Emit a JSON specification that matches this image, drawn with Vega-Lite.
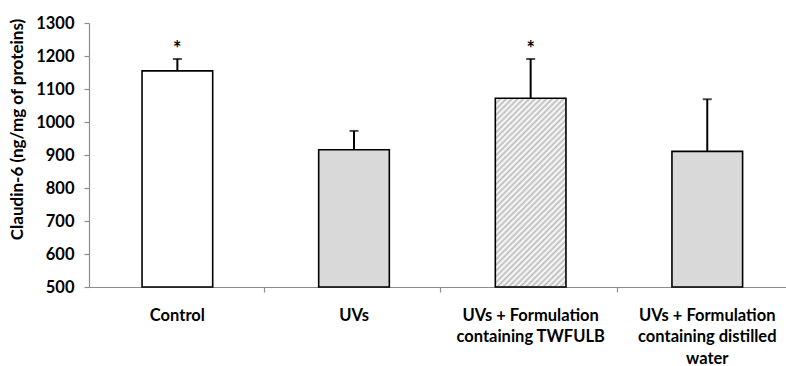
{
  "$schema": "https://vega.github.io/schema/vega-lite/v6.json",
  "width": 697,
  "height": 264,
  "autosize": {"type": "none"},
  "padding": {"left": 89, "top": 23, "right": 0, "bottom": 79},
  "background": "white",
  "config": {
    "view": {"stroke": null},
    "font": "Lato"
  },
  "data": {
    "values": [
      {"group": "Control", "value": 1155, "upper": 1191, "sig": "*"},
      {"group": "UVs", "value": 916, "upper": 973, "sig": ""},
      {"group": "UVs + Formulation|containing TWFULB", "value": 1072, "upper": 1191, "sig": "*"},
      {"group": "UVs + Formulation|containing distilled|water", "value": 911, "upper": 1069, "sig": ""}
    ]
  },
  "encoding": {
    "x": {
      "field": "group",
      "type": "nominal",
      "sort": null,
      "scale": {"paddingInner": 0.6, "paddingOuter": 0.273, "align": 0.55},
      "axis": {
        "title": null,
        "labelAngle": 0,
        "labelExpr": "split(datum.label, '|')",
        "labelFont": "Lato",
        "labelFontWeight": "bold",
        "labelFontSize": 16.5,
        "labelLineHeight": 21.5,
        "labelColor": "#000000",
        "labelPadding": 15,
        "labelLimit": 300,
        "labelOverlap": false,
        "domainColor": "#8c8c8c",
        "domainWidth": 1.2,
        "tickColor": "#8c8c8c",
        "tickWidth": 1.2,
        "tickSize": 5,
        "bandPosition": 1.73,
        "tickExtra": false
      }
    }
  },
  "layer": [
    {
      "mark": {"type": "rule", "stroke": "#000000", "strokeWidth": 2},
      "encoding": {
        "y": {
          "field": "value",
          "type": "quantitative",
          "scale": {"domain": [500, 1300], "nice": false, "zero": false},
          "axis": {
            "title": "Claudin-6 (ng/mg of proteins)",
            "values": [500, 600, 700, 800, 900, 1000, 1100, 1200, 1300],
            "tickCount": 9,
            "format": "d",
            "labelOverlap": false,
            "grid": false,
            "labelFont": "Lato",
            "labelFontWeight": "bold",
            "labelFontSize": 16.5,
            "labelColor": "#000000",
            "labelPadding": 10,
            "domainColor": "#8c8c8c",
            "domainWidth": 1.2,
            "tickColor": "#8c8c8c",
            "tickWidth": 1.2,
            "tickSize": 5,
            "titleFont": "Lato",
            "titleFontWeight": "bold",
            "titleFontSize": 17,
            "titleColor": "#000000",
            "titleX": -72,
            "titleY": 106,
            "titleAngle": -90,
            "titleAlign": "center",
            "titleBaseline": "middle"
          }
        },
        "y2": {"field": "upper"}
      }
    },
    {
      "mark": {"type": "tick", "color": "#000000", "size": 9, "thickness": 2},
      "encoding": {
        "y": {"field": "upper", "type": "quantitative"}
      }
    },
    {
      "mark": {"type": "bar", "stroke": "#000000", "strokeWidth": 1.6},
      "encoding": {
        "y": {"field": "value", "type": "quantitative"},
        "y2": {"datum": 500},
        "fill": {
          "condition": [
            {"test": "datum.group === 'Control'", "value": "#ffffff"},
            {
              "test": "indexof(datum.group, 'TWFULB') >= 0",
              "value": {
                "gradient": "linear",
                "x1": 0, "y1": 0, "x2": 0.453, "y2": 1.206,
                "stops": [
                  {"offset": 0, "color": "#bdbdbd"}, {"offset": 0.0111, "color": "#ffffff"},
                  {"offset": 0.0222, "color": "#bdbdbd"}, {"offset": 0.0333, "color": "#ffffff"},
                  {"offset": 0.0444, "color": "#bdbdbd"}, {"offset": 0.0556, "color": "#ffffff"},
                  {"offset": 0.0667, "color": "#bdbdbd"}, {"offset": 0.0778, "color": "#ffffff"},
                  {"offset": 0.0889, "color": "#bdbdbd"}, {"offset": 0.1, "color": "#ffffff"},
                  {"offset": 0.1111, "color": "#bdbdbd"}, {"offset": 0.1222, "color": "#ffffff"},
                  {"offset": 0.1333, "color": "#bdbdbd"}, {"offset": 0.1444, "color": "#ffffff"},
                  {"offset": 0.1556, "color": "#bdbdbd"}, {"offset": 0.1667, "color": "#ffffff"},
                  {"offset": 0.1778, "color": "#bdbdbd"}, {"offset": 0.1889, "color": "#ffffff"},
                  {"offset": 0.2, "color": "#bdbdbd"}, {"offset": 0.2111, "color": "#ffffff"},
                  {"offset": 0.2222, "color": "#bdbdbd"}, {"offset": 0.2333, "color": "#ffffff"},
                  {"offset": 0.2444, "color": "#bdbdbd"}, {"offset": 0.2556, "color": "#ffffff"},
                  {"offset": 0.2667, "color": "#bdbdbd"}, {"offset": 0.2778, "color": "#ffffff"},
                  {"offset": 0.2889, "color": "#bdbdbd"}, {"offset": 0.3, "color": "#ffffff"},
                  {"offset": 0.3111, "color": "#bdbdbd"}, {"offset": 0.3222, "color": "#ffffff"},
                  {"offset": 0.3333, "color": "#bdbdbd"}, {"offset": 0.3444, "color": "#ffffff"},
                  {"offset": 0.3556, "color": "#bdbdbd"}, {"offset": 0.3667, "color": "#ffffff"},
                  {"offset": 0.3778, "color": "#bdbdbd"}, {"offset": 0.3889, "color": "#ffffff"},
                  {"offset": 0.4, "color": "#bdbdbd"}, {"offset": 0.4111, "color": "#ffffff"},
                  {"offset": 0.4222, "color": "#bdbdbd"}, {"offset": 0.4333, "color": "#ffffff"},
                  {"offset": 0.4444, "color": "#bdbdbd"}, {"offset": 0.4556, "color": "#ffffff"},
                  {"offset": 0.4667, "color": "#bdbdbd"}, {"offset": 0.4778, "color": "#ffffff"},
                  {"offset": 0.4889, "color": "#bdbdbd"}, {"offset": 0.5, "color": "#ffffff"},
                  {"offset": 0.5111, "color": "#bdbdbd"}, {"offset": 0.5222, "color": "#ffffff"},
                  {"offset": 0.5333, "color": "#bdbdbd"}, {"offset": 0.5444, "color": "#ffffff"},
                  {"offset": 0.5556, "color": "#bdbdbd"}, {"offset": 0.5667, "color": "#ffffff"},
                  {"offset": 0.5778, "color": "#bdbdbd"}, {"offset": 0.5889, "color": "#ffffff"},
                  {"offset": 0.6, "color": "#bdbdbd"}, {"offset": 0.6111, "color": "#ffffff"},
                  {"offset": 0.6222, "color": "#bdbdbd"}, {"offset": 0.6333, "color": "#ffffff"},
                  {"offset": 0.6444, "color": "#bdbdbd"}, {"offset": 0.6556, "color": "#ffffff"},
                  {"offset": 0.6667, "color": "#bdbdbd"}, {"offset": 0.6778, "color": "#ffffff"},
                  {"offset": 0.6889, "color": "#bdbdbd"}, {"offset": 0.7, "color": "#ffffff"},
                  {"offset": 0.7111, "color": "#bdbdbd"}, {"offset": 0.7222, "color": "#ffffff"},
                  {"offset": 0.7333, "color": "#bdbdbd"}, {"offset": 0.7444, "color": "#ffffff"},
                  {"offset": 0.7556, "color": "#bdbdbd"}, {"offset": 0.7667, "color": "#ffffff"},
                  {"offset": 0.7778, "color": "#bdbdbd"}, {"offset": 0.7889, "color": "#ffffff"},
                  {"offset": 0.8, "color": "#bdbdbd"}, {"offset": 0.8111, "color": "#ffffff"},
                  {"offset": 0.8222, "color": "#bdbdbd"}, {"offset": 0.8333, "color": "#ffffff"},
                  {"offset": 0.8444, "color": "#bdbdbd"}, {"offset": 0.8556, "color": "#ffffff"},
                  {"offset": 0.8667, "color": "#bdbdbd"}, {"offset": 0.8778, "color": "#ffffff"},
                  {"offset": 0.8889, "color": "#bdbdbd"}, {"offset": 0.9, "color": "#ffffff"},
                  {"offset": 0.9111, "color": "#bdbdbd"}, {"offset": 0.9222, "color": "#ffffff"},
                  {"offset": 0.9333, "color": "#bdbdbd"}, {"offset": 0.9444, "color": "#ffffff"},
                  {"offset": 0.9556, "color": "#bdbdbd"}, {"offset": 0.9667, "color": "#ffffff"},
                  {"offset": 0.9778, "color": "#bdbdbd"}, {"offset": 0.9889, "color": "#ffffff"},
                  {"offset": 1, "color": "#bdbdbd"}
                ]
              }
            }
          ],
          "value": "#d9d9d9"
        }
      }
    },
    {
      "mark": {"type": "text", "font": "Lato", "fontWeight": "bold", "fontSize": 20, "baseline": "alphabetic", "dy": -3, "color": "#000000"},
      "encoding": {
        "y": {"field": "upper", "type": "quantitative"},
        "text": {"field": "sig"}
      }
    }
  ]
}
